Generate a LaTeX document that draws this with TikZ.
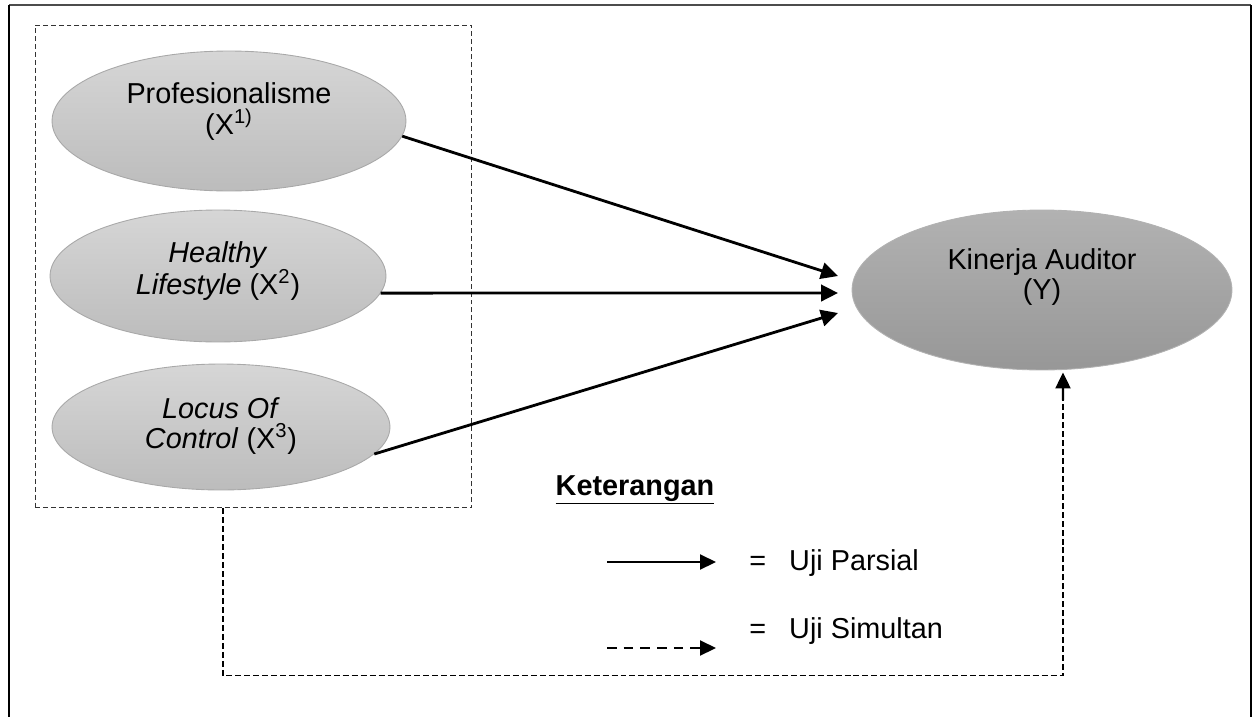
\documentclass[tikz,border=0pt]{standalone}
\usepackage{fontspec}
\setmainfont{Liberation Sans}
\usetikzlibrary{arrows.meta,positioning,calc,shapes.geometric}

\definecolor{varTop}{HTML}{D6D6D6}
\definecolor{varBottom}{HTML}{BCBCBC}
\definecolor{varBorder}{HTML}{A8A8A8}
\definecolor{depTop}{HTML}{B2B2B2}
\definecolor{depBottom}{HTML}{979797}
\definecolor{boxGray}{HTML}{333333}

\begin{document}
\begin{tikzpicture}[
        x=0.02cm, y=-0.02cm,
        varNode/.style={
            ellipse,
            draw=varBorder,
            line width=0.5pt,
            top color=varTop,
            bottom color=varBottom,
            inner sep=0pt
        },
        depNode/.style={
            ellipse,
            draw=depTop,
            line width=0.5pt,
            top color=depTop,
            bottom color=depBottom,
            inner sep=0pt
        },
        varText/.style={
            font=\fontsize{16.4pt}{17.6pt}\selectfont,
            align=center,
            inner sep=0pt
        },
        groupBox/.style={
            draw=boxGray,
            line width=0.6pt,
            dash pattern=on 2.8pt off 1.7pt,
            inner sep=0pt
        },
        partial/.style={
            -{Triangle[length=3.4mm,width=3.3mm]},
            line width=1.6pt
        },
        simLine/.style={
            line width=0.7pt,
            dash pattern=on 3.4pt off 1.7pt
        },
        simArrow/.style={
            -{Triangle[length=3.2mm,width=3mm]},
            line width=1.2pt
        },
        legendText/.style={
            font=\fontsize{16.4pt}{17.6pt}\selectfont,
            inner sep=0pt
        }
    ]

        \useasboundingbox (0,0) rectangle (1258,717);

        % Outer frame
        \draw[line width=1.1pt, draw=black!70] (9,5) -- (1251,5);
        \draw[line width=1.1pt] (9,5) -- (9,717);
        \draw[line width=1.1pt] (1251,5) -- (1251,717);

        % Independent variables
        \node[groupBox, minimum width=8.74cm, minimum height=9.66cm]
            (group) at (253.5,266.5) {};

        \node[varNode, minimum width=7.08cm, minimum height=2.8cm]
            (x1) at (229,121) {};
        \node[varNode, minimum width=6.72cm, minimum height=2.64cm]
            (x2) at (218,276) {};
        \node[varNode, minimum width=6.76cm, minimum height=2.52cm]
            (x3) at (221,427) {};

        \node[varText] (x1text) at (229,112)
            {Profesionalisme\\(X\textsuperscript{1)}};
        \node[varText] (x2text) at (218,271)
            {\textit{Healthy}\\\textit{Lifestyle} (X\textsuperscript{2})};
        \node[varText] (x3text) at (221,426)
            {\textit{Locus Of}\\\textit{Control} (X\textsuperscript{3})};

        % Dependent variable
        \node[depNode, minimum width=7.6cm, minimum height=3.2cm]
            (y) at (1042,290) {};
        \node[varText] (ytext) at (1042,277) {Kinerja Auditor\\(Y)};

        % Partial tests
        \coordinate (tip1) at (838,276);
        \coordinate (tip2) at (838,293);
        \coordinate (tip3) at (838,313);

        \draw[partial] (x1.-5) -- (tip1);
        \draw[partial] (x2.-6) -- (tip2);
        \draw[partial] (x3.-10) -- (tip3);

        % Simultaneous test
        \coordinate (simBend) at (1063,400);

        \draw[simLine]
            ([xshift=-0.61cm]group.south)
            -- ++(0,167)
            -| (simBend);

        \draw[simArrow] (simBend) -- ([xshift=0.42cm, yshift=-0.04cm]y.south);

        % Legend
        \node[legendText, font=\fontsize{16.4pt}{17.6pt}\selectfont\bfseries]
            (legend) at (635,490) {\underline{Keterangan}};

        \coordinate (partStart) at (607,562);
        \coordinate (partEnd) at (716,562);
        \coordinate (simStart) at (607,648);
        \coordinate (simEnd) at (716,648);

        \draw[simArrow] (partStart) -- (partEnd);
        \draw[
            -{Triangle[length=3.2mm,width=3mm]},
            line width=1.2pt,
            dash pattern=on 5.5pt off 4pt
        ] (simStart) -- (simEnd);

        \node[legendText, anchor=base west] (partLabel) at (749,570)
            {=\hspace{0.8em}Uji Parsial};
        \node[legendText, anchor=base west] (simLabel) at (749,638)
            {=\hspace{0.8em}Uji Simultan};

    \end{tikzpicture}
\end{document}
